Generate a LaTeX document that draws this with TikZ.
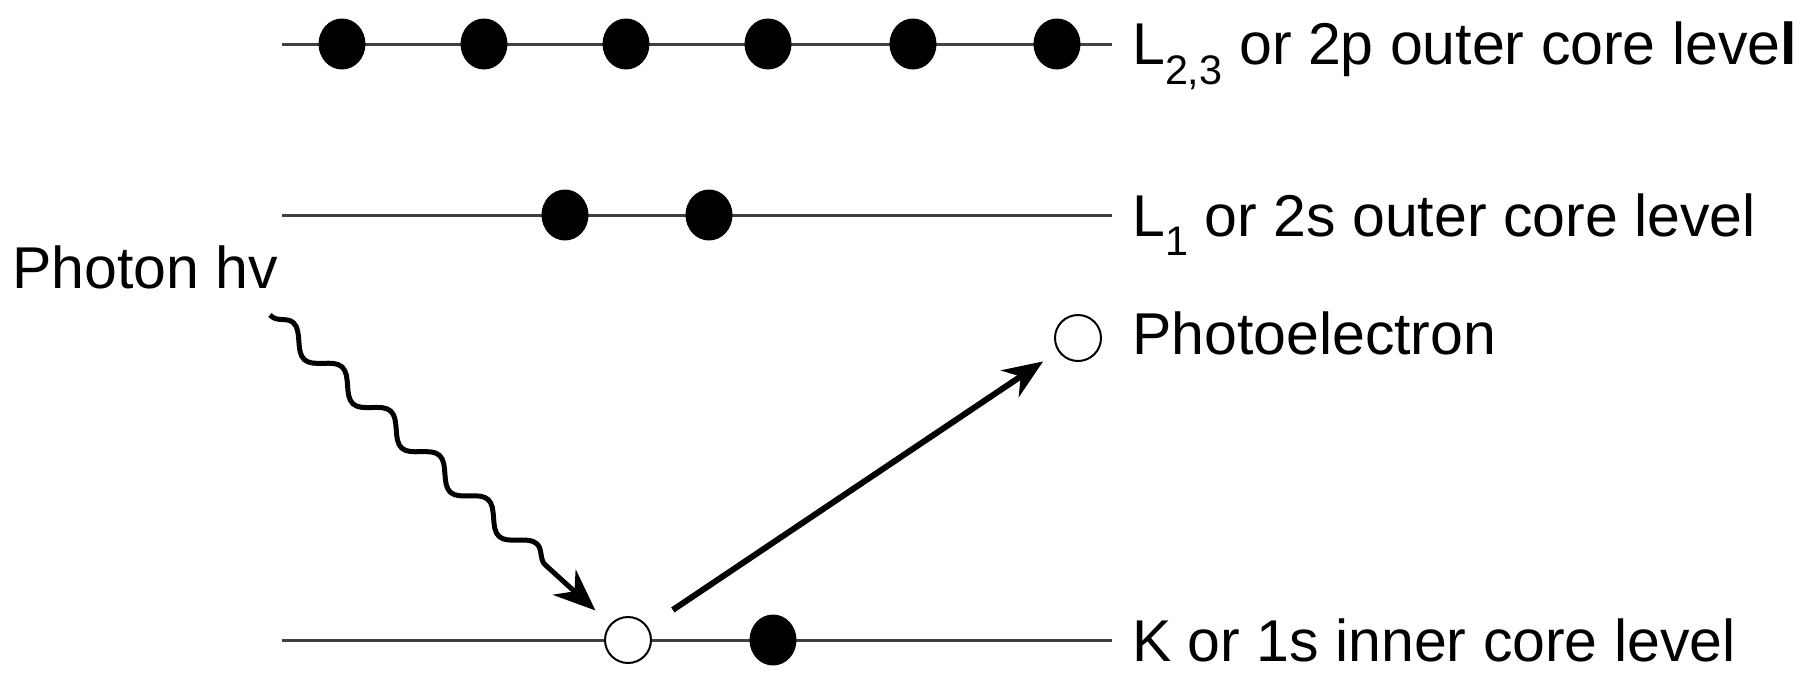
\documentclass[tikz,border=0pt]{standalone}
\usepackage{fontspec}
\setmainfont{Liberation Sans}
\usetikzlibrary{arrows.meta,decorations.pathmorphing,shapes.geometric}
\begin{document}
\begin{tikzpicture}[x=1pt,y=-1pt,
  levelline/.style={line width=3pt, black!75},
  filled/.style={ellipse, fill=black, inner sep=0pt, minimum width=47pt, minimum height=51pt},
  hole/.style={circle, draw=black, line width=2pt, fill=white, inner sep=0pt, minimum size=46pt},
  lab/.style={anchor=base west, inner sep=0pt, font=\fontsize{59}{64}\selectfont},
  photon/.style={line width=5pt, line join=round, decorate,
    decoration={snake, amplitude=10pt, segment length=65.75pt, pre length=2pt, post length=64pt},
    -{Stealth[length=42pt,width=34pt]}},
  emit/.style={line width=6pt, -{Stealth[length=40pt,width=32pt]}}
]
\useasboundingbox (0,0) rectangle (1817,675);
% level lines
\coordinate (t1) at (282,44);   \coordinate (t2) at (1112,44);
\coordinate (m1) at (282,215);  \coordinate (m2) at (1112,215);
\coordinate (k1) at (282,640);  \coordinate (k2) at (1112,640);
\draw[levelline] (t1) -- (t2);
\draw[levelline] (m1) -- (m2);
\draw[levelline] (k1) -- (k2);
% 2p electrons
\foreach \x [count=\i] in {342,484,626,768,913,1057}
  \node[filled] (p\i) at (\x,44) {};
% 2s electrons
\node[filled] (s1) at (565,215) {};
\node[filled] (s2) at (709,215) {};
% 1s
\node[hole] (K0) at (628,640) {};
\node[filled] (K1) at (773,640) {};
% photoelectron
\node[hole] (pe) at (1078,338) {};
% labels
\node[lab] (lt) at (1132,64) {L\textsubscript{2,3} or 2p outer core leve\textbf{l}};
\node[lab] (lm) at (1132,236) {L\textsubscript{1} or 2s outer core level};
\node[lab] (lp) at (1132,354) {Photoelectron};
\node[lab] (lk) at (1132,661) {K or 1s inner core level};
\node[lab] (ph) at (12,288) {Photon hv};
% photon
\coordinate (ws) at (270,315);
\draw[photon, shorten >=20pt] (ws) -- (K0);
% emitted electron
\draw[emit, shorten <=30pt, shorten >=18pt] (K0) -- (pe);
\end{tikzpicture}
\end{document}
